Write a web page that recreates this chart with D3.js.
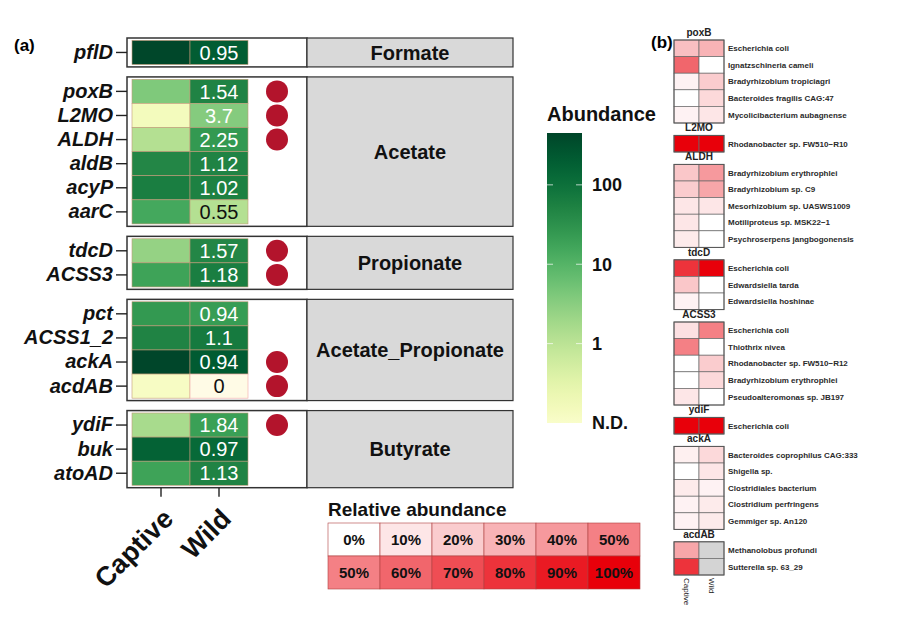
<!DOCTYPE html>
<html>
<head>
<meta charset="utf-8">
<script src="https://cdn.jsdelivr.net/npm/d3@7"></script>
<style>
  body { margin: 0; background: #fff; }
  text { font-family: "Liberation Sans", Arial, Helvetica, sans-serif; }
</style>
</head>
<body>
<svg id="chart" width="910" height="622"></svg>

<script>
  // ---- panel (a) data
  var pathways = ['Formate', 'Acetate', 'Propionate', 'Acetate_Propionate', 'Butyrate']
  var genes = [['pflD'], ['poxB', 'L2MO', 'ALDH', 'aldB', 'acyP', 'aarC'], ['tdcD', 'ACSS3'],
               ['pct', 'ACSS1_2', 'ackA', 'acdAB'], ['ydiF', 'buk', 'atoAD']]
  var captive = [[420], [4, 0.15, 1.2, 45, 60, 15], [2.5, 18], [25, 50, 430, 0.12], [1.6, 170, 18]]
  var wild = [[200], [50, 3.5, 25, 50, 55, 1.2], [45, 60], [22, 70, 220, 0], [20, 130, 50]]
  var ratio = [['0.95'], ['1.54', '3.7', '2.25', '1.12', '1.02', '0.55'], ['1.57', '1.18'],
               ['0.94', '1.1', '0.94', '0'], ['1.84', '0.97', '1.13']]
  var signif = [[0], [1, 1, 1, 0, 0, 0], [1, 1], [0, 0, 1, 1], [1, 0, 0]]
  var groups = ['Captive', 'Wild']
  var legendTicks = [100, 10, 1]
  var relTicks = [[0, 10, 20, 30, 40, 50], [50, 60, 70, 80, 90, 100]]

  // ---- panel (b) data
  var bGenes = ['poxB', 'L2MO', 'ALDH', 'tdcD', 'ACSS3', 'ydiF', 'ackA', 'acdAB']
  var bSpecies = [
    ['Escherichia coli', 'Ignatzschineria cameli', 'Bradyrhizobium tropiciagri', 'Bacteroides fragilis CAG:47', 'Mycolicibacterium aubagnense'],
    ['Rhodanobacter sp. FW510\u2212R10'],
    ['Bradyrhizobium erythrophlei', 'Bradyrhizobium sp. C9', 'Mesorhizobium sp. UASWS1009', 'Motiliproteus sp. MSK22\u22121', 'Psychroserpens jangbogonensis'],
    ['Escherichia coli', 'Edwardsiella tarda', 'Edwardsiella hoshinae'],
    ['Escherichia coli', 'Thiothrix nivea', 'Rhodanobacter sp. FW510\u2212R12', 'Bradyrhizobium erythrophlei', 'Pseudoalteromonas sp. JB197'],
    ['Escherichia coli'],
    ['Bacteroides coprophilus CAG:333', 'Shigella sp.', 'Clostridiales bacterium', 'Clostridium perfringens', 'Gemmiger sp. An120'],
    ['Methanolobus profundi', 'Sutterella sp. 63_29']
  ]
  var bCaptive = [[0.25, 0.6, 0.05, 0, 0.05], [1], [0.22, 0.2, 0.1, 0.1, 0.08], [0.8, 0.22, 0.05],
                  [0.12, 0.5, 0, 0, 0.1], [1], [0.06, 0, 0.08, 0.05, 0.05], [0.35, 0.8]]
  var bWild = [[0.3, 0, 0.2, 0.15, 0.1], [1], [0.4, 0.35, 0.1, 0, 0], [1, 0, 0],
               [0.5, 0, 0.2, 0.15, 0], [1], [0.15, 0.1, 0.05, 0.08, 0.08], [null, null]]

  var svg = d3.select('#chart')

  var abund = d3.scaleSequentialLog(function(t) { return d3.interpolateYlGn(0.08 + 0.92 * t) })
                .domain([0.1, 450])
  function tileColour(v) {
    return v > 0 ? abund(v) : '#fffbe6'
  }
  var rel = d3.scaleLinear().domain([0, 1]).range(['#ffffff', '#e8000a']).interpolate(d3.interpolateRgb)

  // ---- panel (a)
  var unit = 24.1, gap = 10, top0 = 38
  var x = d3.scaleBand().domain(['Captive', 'Wild', 'sig']).range([132, 306])
  var boxLeft = 127, boxRight = 307, stripRight = 513

  var panelTop = top0
  pathways.forEach(function(p, g) {
    var n = genes[g].length
    var h = (n + 0.2) * unit
    var y = d3.scaleBand().domain(genes[g]).range([panelTop + 0.1 * unit, panelTop + (n + 0.1) * unit])
    var panel = svg.append('g')

    var cells = []
    genes[g].forEach(function(gene, i) {
      cells.push({ gene: gene, grp: 'Captive', v: captive[g][i] })
      cells.push({ gene: gene, grp: 'Wild', v: wild[g][i] })
    })

    panel.selectAll('rect.tile')
         .data(cells)
         .enter()
         .append('rect')
         .attr('x', function(d) { return x(d.grp) })
         .attr('y', function(d) { return y(d.gene) })
         .attr('width', x.bandwidth())
         .attr('height', y.bandwidth())
         .attr('fill', function(d) { return tileColour(d.v) })
         .attr('stroke', function(d) { return d.v > 0 ? '#c29a78' : '#f0a8a8' })
         .attr('stroke-width', 0.6)

    panel.selectAll('text.val')
         .data(genes[g])
         .enter()
         .append('text')
         .attr('x', x('Wild') + x.bandwidth() / 2)
         .attr('y', function(d) { return y(d) + y.bandwidth() / 2 })
         .attr('dy', '0.36em')
         .attr('text-anchor', 'middle')
         .attr('font-size', 20)
         .attr('fill', function(d, i) { return wild[g][i] < 2 ? '#111' : '#fff' })
         .text(function(d, i) { return ratio[g][i] })

    panel.selectAll('circle')
         .data(genes[g].filter(function(d, i) { return signif[g][i] }))
         .enter()
         .append('circle')
         .attr('cx', x('sig') + x.bandwidth() / 2)
         .attr('cy', function(d) { return y(d) + y.bandwidth() / 2 })
         .attr('r', 11)
         .attr('fill', '#b3142c')

    panel.append('rect')
         .attr('x', boxLeft).attr('y', panelTop)
         .attr('width', boxRight - boxLeft).attr('height', h)
         .attr('fill', 'none').attr('stroke', '#333').attr('stroke-width', 1.5)

    panel.append('rect')
         .attr('x', boxRight).attr('y', panelTop)
         .attr('width', stripRight - boxRight).attr('height', h)
         .attr('fill', '#d9d9d9').attr('stroke', '#333').attr('stroke-width', 1.2)

    panel.append('text')
         .attr('x', (boxRight + stripRight) / 2)
         .attr('y', panelTop + h / 2)
         .attr('dy', '0.36em')
         .attr('text-anchor', 'middle')
         .attr('font-size', 20)
         .attr('font-weight', 'bold')
         .attr('fill', '#111')
         .text(p)

    var axis = d3.axisLeft(y).tickSize(11).tickPadding(3)
    var ag = panel.append('g').attr('transform', 'translate(' + boxLeft + ',0)').call(axis)
    ag.select('.domain').remove()
    ag.selectAll('line').attr('stroke', '#222').attr('stroke-width', 1.4)
    ag.selectAll('text')
      .attr('font-size', 20)
      .attr('font-weight', 'bold')
      .attr('font-style', 'italic')
      .attr('fill', '#111')
      .style('font-family', '"Liberation Sans", Arial, sans-serif')

    panelTop += h + gap
  })

  var bottom = panelTop - gap
  var xg = svg.append('g').attr('transform', 'translate(0,' + bottom + ')')
  xg.selectAll('line')
    .data(groups)
    .enter()
    .append('line')
    .attr('x1', function(d) { return x(d) + x.bandwidth() / 2 })
    .attr('x2', function(d) { return x(d) + x.bandwidth() / 2 })
    .attr('y1', 0).attr('y2', 9)
    .attr('stroke', '#222').attr('stroke-width', 1.4)
  xg.selectAll('text')
    .data(groups)
    .enter()
    .append('text')
    .attr('transform', function(d) {
      return 'translate(' + (x(d) + x.bandwidth() / 2) + ',19) rotate(-45)'
    })
    .attr('dy', '0.72em')
    .attr('text-anchor', 'end')
    .attr('font-size', 27)
    .attr('font-weight', 'bold')
    .attr('fill', '#111')
    .text(function(d) { return d })

  svg.append('text').attr('x', 14).attr('y', 51)
     .attr('font-size', 17).attr('font-weight', 'bold').text('(a)')

  // ---- abundance legend
  var legY = d3.scaleLog().domain([0.1, 450]).range([423, 133])
  var defs = svg.append('defs')
  var grad = defs.append('linearGradient').attr('id', 'abundGrad')
                 .attr('x1', 0).attr('x2', 0).attr('y1', 1).attr('y2', 0)
  d3.range(0, 1.001, 0.05).forEach(function(t) {
    grad.append('stop').attr('offset', t).attr('stop-color', abund(Math.pow(10, -1 + t * Math.log10(4500))))
  })
  svg.append('rect').attr('x', 547).attr('y', 133).attr('width', 35).attr('height', 290)
     .attr('fill', 'url(#abundGrad)')
  svg.append('text').attr('x', 547).attr('y', 121)
     .attr('font-size', 20).attr('font-weight', 'bold').attr('fill', '#111').text('Abundance')
  legendTicks.forEach(function(t) {
    var yy = legY(t)
    svg.append('line').attr('x1', 547).attr('x2', 553).attr('y1', yy).attr('y2', yy)
       .attr('stroke', '#fff').attr('stroke-opacity', 0.7)
    svg.append('line').attr('x1', 576).attr('x2', 582).attr('y1', yy).attr('y2', yy)
       .attr('stroke', '#fff').attr('stroke-opacity', 0.7)
    svg.append('text').attr('x', 592).attr('y', yy).attr('dy', '0.36em')
       .attr('font-size', 18).attr('font-weight', 'bold').attr('fill', '#111').text(t)
  })
  svg.append('text').attr('x', 592).attr('y', legY(0.1)).attr('dy', '0.36em')
     .attr('font-size', 18).attr('font-weight', 'bold').attr('fill', '#111').text('N.D.')

  // ---- relative abundance legend
  var relX = d3.scaleBand().domain(d3.range(6)).range([328, 640])
  var relY = d3.scaleBand().domain([0, 1]).range([523, 589])
  svg.append('text').attr('x', 328).attr('y', 516)
     .attr('font-size', 19).attr('font-weight', 'bold').attr('fill', '#111').text('Relative abundance')
  relTicks.forEach(function(row, r) {
    var rg = svg.append('g')
    rg.selectAll('rect')
      .data(row)
      .enter()
      .append('rect')
      .attr('x', function(d, i) { return relX(i) })
      .attr('y', relY(r))
      .attr('width', relX.bandwidth())
      .attr('height', relY.bandwidth())
      .attr('fill', function(d) { return rel(d / 100) })
      .attr('stroke', '#b04040').attr('stroke-width', 0.6)
    rg.selectAll('text')
      .data(row)
      .enter()
      .append('text')
      .attr('x', function(d, i) { return relX(i) + relX.bandwidth() / 2 })
      .attr('y', relY(r) + relY.bandwidth() / 2)
      .attr('dy', '0.36em')
      .attr('text-anchor', 'middle')
      .attr('font-size', 15)
      .attr('font-weight', 'bold')
      .attr('fill', '#111')
      .text(function(d) { return d + '%' })
  })

  // ---- panel (b)
  var bx = d3.scaleBand().domain(groups).range([674, 724])
  var rowH = 16.6, bGap = 12.4
  var btop = 40
  svg.append('text').attr('x', 651).attr('y', 48)
     .attr('font-size', 17).attr('font-weight', 'bold').text('(b)')

  bGenes.forEach(function(gene, g) {
    var n = bSpecies[g].length
    var by = d3.scaleBand().domain(d3.range(n)).range([btop, btop + n * rowH])
    var bg = svg.append('g')
    var cells = []
    bSpecies[g].forEach(function(s, i) {
      cells.push({ i: i, grp: 'Captive', v: bCaptive[g][i] })
      cells.push({ i: i, grp: 'Wild', v: bWild[g][i] })
    })
    bg.selectAll('rect')
      .data(cells)
      .enter()
      .append('rect')
      .attr('x', function(d) { return bx(d.grp) })
      .attr('y', function(d) { return by(d.i) })
      .attr('width', bx.bandwidth())
      .attr('height', by.bandwidth())
      .attr('fill', function(d) { return d.v === null ? '#d4d4d4' : rel(d.v) })
      .attr('stroke', '#6a6a6a')
      .attr('stroke-width', 0.7)
    bg.append('rect')
      .attr('x', 674).attr('y', btop).attr('width', 50).attr('height', n * rowH)
      .attr('fill', 'none').attr('stroke', '#555').attr('stroke-width', 1)
    bg.selectAll('text.sp')
      .data(bSpecies[g])
      .enter()
      .append('text')
      .attr('x', 728)
      .attr('y', function(d, i) { return by(i) + by.bandwidth() / 2 })
      .attr('dy', '0.36em')
      .attr('font-size', 8)
      .attr('font-weight', 'bold')
      .attr('fill', '#2a2a2a')
      .text(function(d) { return d })
    bg.append('text')
      .attr('x', 699).attr('y', btop - 4)
      .attr('text-anchor', 'middle')
      .attr('font-size', 10)
      .attr('font-weight', 'bold')
      .attr('fill', '#222')
      .text(gene)
    btop += n * rowH + bGap
  })

  var bBottom = btop - bGap
  svg.selectAll('text.bcol')
     .data(groups)
     .enter()
     .append('text')
     .attr('transform', function(d) {
       return 'translate(' + (bx(d) + bx.bandwidth() / 2) + ',' + (bBottom + 3) + ') rotate(90)'
     })
     .attr('dy', '0.36em')
     .attr('font-size', 8)
     .attr('fill', '#222')
     .text(function(d) { return d })
</script>
</body>
</html>
